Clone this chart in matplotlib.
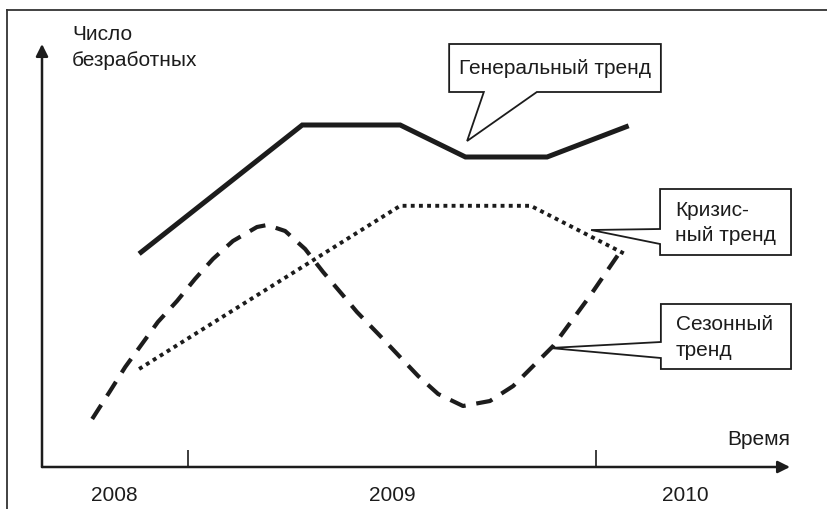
import matplotlib.pyplot as plt
from matplotlib.patches import Polygon
from matplotlib.lines import Line2D

plt.rcParams['font.family'] = ['Liberation Sans', 'DejaVu Sans']

INK = '#1c1c1c'

# генеральный тренд
gen_x = [2008.88, 2009.28, 2009.52, 2009.68, 2009.88, 2010.08]
gen_y = [53.3, 85.5, 85.5, 77.5, 77.5, 85.3]

# кризисный тренд
cri_x = [2008.88, 2009.52, 2009.84, 2010.07]
cri_y = [24.5, 65.3, 65.3, 53.3]

# сезонный тренд
sea_x = [2008.765, 2008.809, 2008.846, 2008.887, 2008.926, 2008.973, 2009.017, 2009.061,
         2009.110, 2009.169, 2009.194, 2009.238, 2009.287, 2009.331, 2009.377, 2009.414,
         2009.471, 2009.515, 2009.564, 2009.613, 2009.674, 2009.740, 2009.797, 2009.846,
         2009.895, 2009.985, 2010.064]
sea_y = [12.0, 19.0, 25.0, 30.75, 36.25, 41.5, 47.0, 52.0,
         56.5, 60.0, 60.5, 59.0, 54.5, 48.75, 43.25, 38.75,
         32.75, 28.0, 22.75, 18.25, 15.25, 16.5, 20.25, 25.25,
         30.25, 42.75, 54.5]

year_bounds = [2009, 2010]
year_pos = [2008.82, 2009.5, 2010.22]
year_labels = ['2008', '2009', '2010']

# выноски: (x0, y0, x1, y1), основание указателя, острие
callouts = [
    ('Генеральный тренд', (2009.640, 93.75, 2010.159, 105.75), (2009.725, 2009.855), (2009.684, 81.5), 'bottom'),
    ('Кризис-\nный тренд', (2010.157, 53.0, 2010.478, 69.5), (59.5, 55.75), (2009.988, 59.25), 'left'),
    ('Сезонный\nтренд', (2010.159, 24.5, 2010.478, 40.75), (31.25, 27.25), (2009.887, 29.75), 'left'),
]


def draw_callout(ax, text, box, base, tip, side):
    x0, y0, x1, y1 = box
    if side == 'bottom':
        xa, xb = base
        verts = [(x0, y1), (x1, y1), (x1, y0), (xb, y0), tip, (xa, y0), (x0, y0)]
    else:
        ya, yb = base
        verts = [(x0, y1), (x1, y1), (x1, y0), (x0, y0), (x0, yb), tip, (x0, ya)]
    ax.add_patch(Polygon(verts, closed=True, facecolor='white', edgecolor=INK,
                         lw=1.3, zorder=4, clip_on=False, joinstyle='miter'))
    if side == 'bottom':
        ax.text((x0 + x1) / 2, (y0 + y1) / 2, text, ha='center', va='center',
                fontsize=15, color=INK, zorder=5)
    else:
        ax.text(x0 + 0.037, (y0 + y1) / 2, text, ha='left', va='center',
                fontsize=15, color=INK, zorder=5, linespacing=1.45)


fig = plt.figure(figsize=(8.28, 5.10), dpi=100)
ax = fig.add_axes([42 / 828, 42 / 510, 748 / 828, 423 / 510])
ax.set_xlim(2008.642, 2010.4755)
ax.set_ylim(0, 105.75)
for s in ax.spines.values():
    s.set_visible(False)

# оси со стрелками
arrow = dict(arrowstyle='-|>', color=INK, lw=1.8, mutation_scale=18, shrinkA=0, shrinkB=0)
ax.annotate('', xy=(1, 0), xytext=(0, 0), xycoords='axes fraction', arrowprops=arrow)
ax.annotate('', xy=(0, 1), xytext=(0, 0), xycoords='axes fraction', arrowprops=arrow)

ax.set_xticks(year_bounds)
ax.set_xticklabels([])
ax.set_xticks(year_pos, minor=True)
ax.set_xticklabels(year_labels, minor=True)
ax.tick_params(axis='x', which='major', direction='in', length=12, width=1.2, color=INK)
ax.tick_params(axis='x', which='minor', length=0, pad=13, labelsize=15, labelcolor=INK)
ax.set_yticks([])

ax.plot(gen_x, gen_y, color=INK, lw=3.6, solid_joinstyle='miter', solid_capstyle='butt')
ax.plot(cri_x, cri_y, color=INK, lw=2.8, linestyle=(0, (1.0, 1.1)), dash_capstyle='butt')
ax.plot(sea_x, sea_y, color=INK, lw=3.0, linestyle=(0, (4.0, 2.6)), dash_capstyle='butt')

for c in callouts:
    draw_callout(ax, *c)

ax.text(2008.716, 110.8, 'Число\nбезработных', ha='left', va='top', fontsize=15,
        color=INK, linespacing=1.5, clip_on=False)
ax.text(2010.475, 7.0, 'Время', ha='right', va='center', fontsize=15, color=INK)

# рамка
fig.add_artist(Line2D([7 / 828, 1], [1 - 11 / 510] * 2, color='#333333', lw=1.3))
fig.add_artist(Line2D([7.5 / 828] * 2, [0, 1 - 11 / 510], color='#333333', lw=1.3))

fig.savefig('out.png', dpi=100)
